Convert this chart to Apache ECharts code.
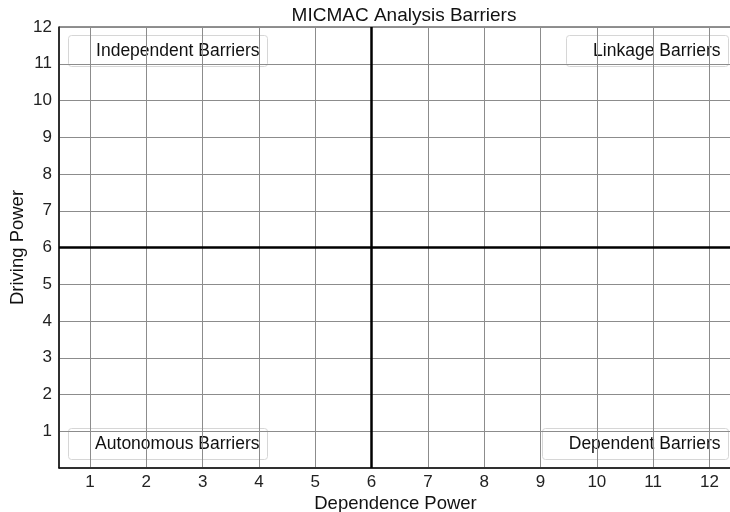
<!DOCTYPE html>
<html>
<head>
<meta charset="utf-8">
<script src="https://cdn.jsdelivr.net/npm/echarts@6/dist/echarts.min.js"></script>
<style>
  html, body { margin: 0; padding: 0; background: #fff; }
  #chart { width: 730px; height: 512px; }
</style>
</head>
<body>
<div id="chart"></div>
<script>
const xTicks = [1, 2, 3, 4, 5, 6, 7, 8, 9, 10, 11, 12]
const yTicks = [1, 2, 3, 4, 5, 6, 7, 8, 9, 10, 11, 12]
const dividers = { dependence: 6, driving: 6 }
const quadrantNames = ['Independent Barriers', 'Linkage Barriers', 'Autonomous Barriers', 'Dependent Barriers']

const font = 'Liberation Sans, Arial, sans-serif'

// label boxes sit in the corners, like matplotlib legends
const box = (name, pos) => ({
  type: 'group',
  left: pos.left,
  right: pos.right,
  top: pos.top,
  children: [
    {
      type: 'rect',
      shape: { x: 0, y: 0, width: pos.w, height: 31, r: 3 },
      style: { fill: 'rgba(255,255,255,0.8)', stroke: '#d6d6d6', lineWidth: 1 }
    },
    {
      type: 'text',
      style: {
        x: pos.w - 8, y: 16, text: name, align: 'right', verticalAlign: 'middle',
        font: '17.5px ' + font, fill: '#111'
      }
    }
  ]
})

const chart = echarts.init(document.getElementById('chart'))

chart.setOption({
  animation: false,
  title: {
    text: 'MICMAC Analysis Barriers',
    left: 399,
    textAlign: 'center',
    top: 1,
    textStyle: { fontFamily: font, fontSize: 19, fontWeight: 'normal', color: '#111' }
  },
  grid: {
    left: 59, top: 27, right: -2, bottom: 44,
    outerBoundsMode: 'none',
    containLabel: false,
    show: true, borderColor: '#222', borderWidth: 1
  },
  xAxis: {
    type: 'value',
    min: 0.45,
    max: 12.4,
    name: 'Dependence Power',
    nameLocation: 'middle',
    nameGap: 26,
    nameMoveOverlap: false,
    nameTextStyle: { fontFamily: font, fontSize: 18.5, color: '#111' },
    axisLine: { show: true, lineStyle: { color: '#111', width: 1.5 } },
    axisTick: { show: false, customValues: xTicks },
    axisLabel: { customValues: xTicks, fontFamily: font, fontSize: 17, color: '#222', margin: 6 },
    splitLine: { show: true, lineStyle: { color: '#8c8c8c', width: 1 } }
  },
  yAxis: {
    type: 'value',
    min: 0,
    max: 12,
    name: 'Driving Power',
    nameLocation: 'middle',
    nameGap: 32,
    nameMoveOverlap: false,
    nameTextStyle: { fontFamily: font, fontSize: 18.5, color: '#111' },
    axisLine: { show: true, lineStyle: { color: '#111', width: 1.5 } },
    axisTick: { show: false, customValues: yTicks },
    axisLabel: { customValues: yTicks, fontFamily: font, fontSize: 17, color: '#222', margin: 7 },
    splitLine: { show: true, lineStyle: { color: '#8c8c8c', width: 1 } }
  },
  series: [
    {
      type: 'scatter',
      data: [],
      silent: true,
      markLine: {
        symbol: 'none',
        silent: true,
        label: { show: false },
        lineStyle: { color: '#000', width: 2.5, type: 'solid' },
        data: [
          { xAxis: dividers.dependence },
          { yAxis: dividers.driving }
        ]
      }
    }
  ],
  graphic: [
    box(quadrantNames[0], { left: 68, top: 35, w: 199 }),
    box(quadrantNames[1], { right: 1, top: 35, w: 162 }),
    box(quadrantNames[2], { left: 68, top: 428, w: 199 }),
    box(quadrantNames[3], { right: 1, top: 428, w: 186 })
  ]
})
</script>
</body>
</html>
